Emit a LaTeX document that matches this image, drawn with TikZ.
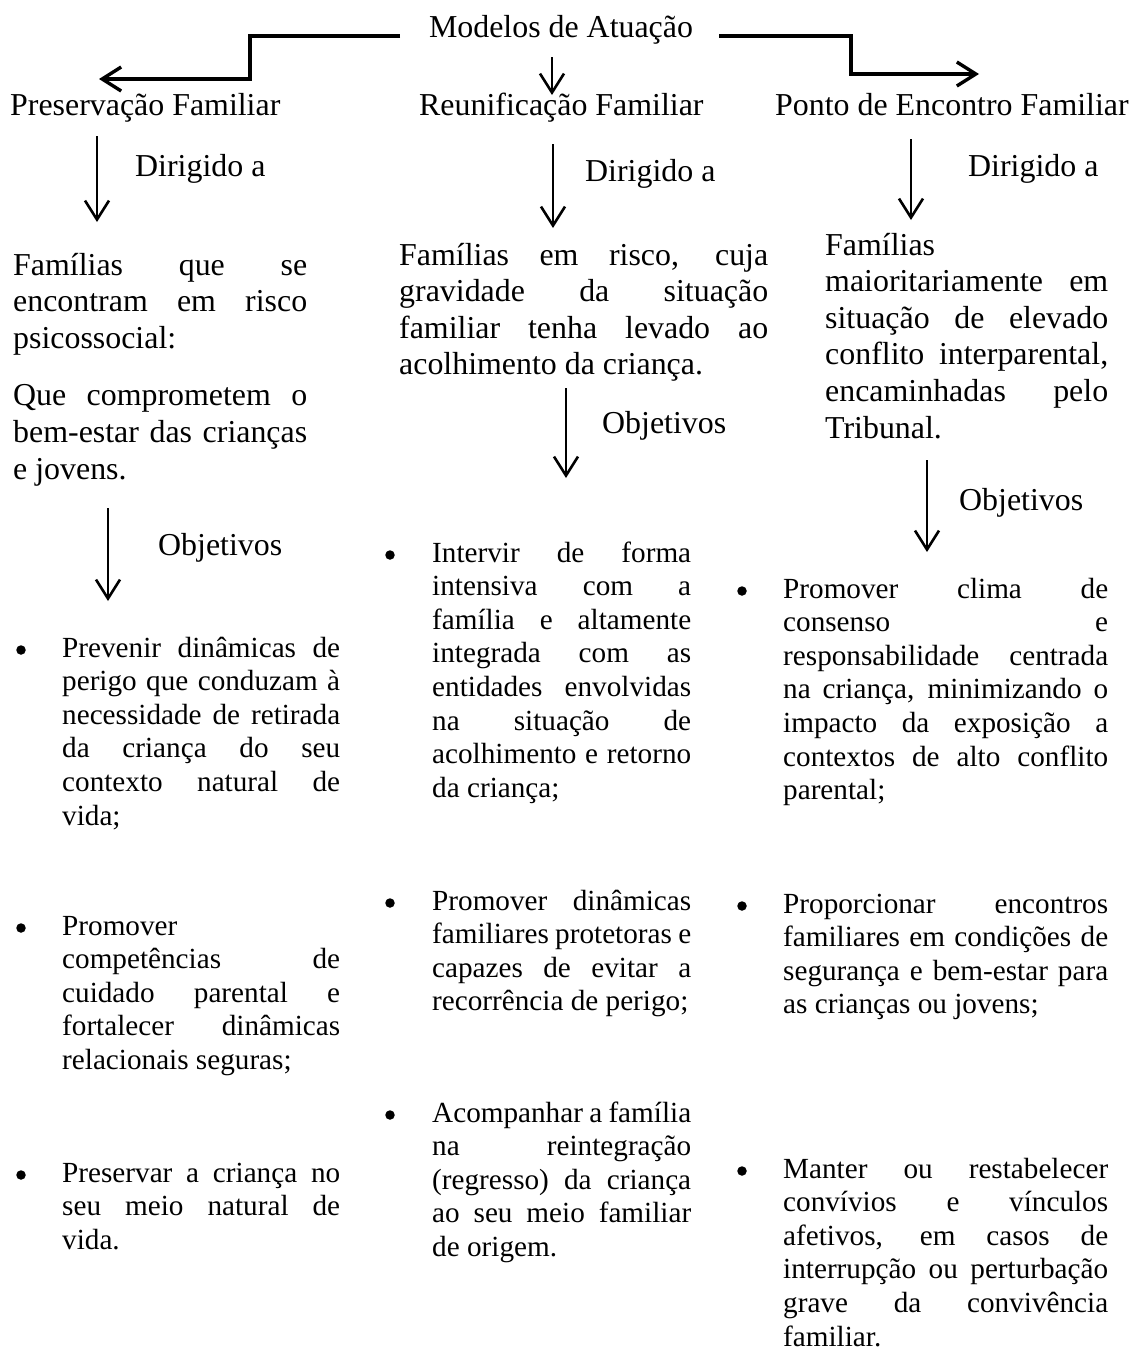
\documentclass[tikz,border=0pt]{standalone}
\usepackage{fontspec}
\setmainfont{Liberation Serif}
\usetikzlibrary{arrows.meta}
\newcommand{\jl}[1]{\makebox[\hsize][s]{\spaceskip=0pt\xspaceskip=0pt #1}\\}

\begin{document}
\begin{tikzpicture}[x=1pt, y=-1pt,
  txt/.style={inner sep=0pt, anchor=base west, font=\fontsize{31.9}{36.6}\selectfont},
  blk/.style={txt, align=justify, text width=#1},
  itm/.style={txt, align=justify, text width=#1, font=\fontsize{29.2}{33.6}\selectfont},
  bul/.style={circle, fill=black, inner sep=0pt, minimum size=9.5pt},
  conn/.style={-{Straight Barb[length=19pt, width=24pt]}, line width=3.4pt},
  arr/.style={-{Straight Barb[length=19pt, width=24pt]}, line width=2.6pt}]
\useasboundingbox (0,0) rectangle (1132,1353);
\node[txt, anchor=base] (mod) at (561,37) {Modelos de Atuação};
\node[txt] (pres) at (10,115) {Preservação Familiar};
\node[txt] (reun) at (419,115) {Reunificação Familiar};
\node[txt] (ponto) at (775,115) {Ponto de Encontro Familiar};
\coordinate (cl0) at (400,36);
\coordinate (cl1) at (99,79);
\coordinate (cm0) at (552,57);
\coordinate (cm1) at (552,95);
\coordinate (cr0) at (719,36);
\coordinate (cr1) at (979,74);
\draw[conn] (cl0) -- (250,36) -- (250,79) -- (cl1);
\draw[arr] (cm0) -- (cm1);
\draw[conn] (cr0) -- (851,36) -- (851,74) -- (cr1);
\coordinate (da1) at (97,136);
\coordinate (db1) at (97,222);
\coordinate (da2) at (553,144);
\coordinate (db2) at (553,228);
\coordinate (da3) at (911,139);
\coordinate (db3) at (911,220);
\draw[arr] (da1) -- (db1);
\draw[arr] (da2) -- (db2);
\draw[arr] (da3) -- (db3);
\node[txt] (dir1) at (135,176) {Dirigido a};
\node[txt] (dir2) at (585,181) {Dirigido a};
\node[txt] (dir3) at (968,176) {Dirigido a};
\node[blk=294pt] (fam1) at (13,275) {\jl{Famílias que se}
  \jl{encontram em risco}
  psicossocial:\\[21pt]
  \jl{Que comprometem o}
  \jl{bem-estar das crianças}
  e jovens.};
\node[blk=369pt] (fam2) at (399,265) {\jl{Famílias em risco, cuja}
  \jl{gravidade da situação}
  \jl{familiar tenha levado ao}
  acolhimento da criança.};
\node[blk=283pt] (fam3) at (825,255) {Famílias\\
  \jl{maioritariamente em}
  \jl{situação de elevado}
  \jl{conflito interparental,}
  \jl{encaminhadas pelo}
  Tribunal.};
\coordinate (oa1) at (108,508);
\coordinate (ob1) at (108,601);
\coordinate (oa2) at (566,388);
\coordinate (ob2) at (566,478);
\coordinate (oa3) at (927,460);
\coordinate (ob3) at (927,552);
\draw[arr] (oa1) -- (ob1);
\draw[arr] (oa2) -- (ob2);
\draw[arr] (oa3) -- (ob3);
\node[txt] (obj1) at (158,555) {Objetivos};
\node[txt] (obj2) at (602,433) {Objetivos};
\node[txt] (obj3) at (959,510) {Objetivos};
\node[itm=278pt] (p1) at (62,657) {\jl{Prevenir dinâmicas de}
  \jl{perigo que conduzam à}
  \jl{necessidade de retirada}
  \jl{da criança do seu}
  \jl{contexto natural de}
  vida;};
\node[itm=278pt] (p2) at (62,935) {Promover\\
  \jl{competências de}
  \jl{cuidado parental e}
  \jl{fortalecer dinâmicas}
  relacionais seguras;};
\node[itm=278pt] (p3) at (62,1182) {\jl{Preservar a criança no}
  \jl{seu meio natural de}
  vida.};
\node[itm=259pt] (r1) at (432,562) {\jl{Intervir de forma}
  \jl{intensiva com a}
  \jl{família e altamente}
  \jl{integrada com as}
  \jl{entidades envolvidas}
  \jl{na situação de}
  \jl{acolhimento e retorno}
  da criança;};
\node[itm=259pt] (r2) at (432,910) {\jl{Promover dinâmicas}
  \jl{familiares protetoras e}
  \jl{capazes de evitar a}
  recorrência de perigo;};
\node[itm=259pt] (r3) at (432,1122) {\jl{Acompanhar a família}
  \jl{na reintegração}
  \jl{(regresso) da criança}
  \jl{ao seu meio familiar}
  de origem.};
\node[itm=325pt] (e1) at (783,598) {\jl{Promover clima de}
  \jl{consenso e}
  \jl{responsabilidade centrada}
  \jl{na criança, minimizando o}
  \jl{impacto da exposição a}
  \jl{contextos de alto conflito}
  parental;};
\node[itm=325pt] (e2) at (783,913) {\jl{Proporcionar encontros}
  \jl{familiares em condições de}
  \jl{segurança e bem-estar para}
  as crianças ou jovens;};
\node[itm=325pt] (e3) at (783,1178) {\jl{Manter ou restabelecer}
  \jl{convívios e vínculos}
  \jl{afetivos, em casos de}
  \jl{interrupção ou perturbação}
  \jl{grave da convivência}
  familiar.};
\node[bul] (bp1) at (21,650) {};
\node[bul] (bp2) at (21,928) {};
\node[bul] (bp3) at (21,1175) {};
\node[bul] (br1) at (390,555) {};
\node[bul] (br2) at (390,903) {};
\node[bul] (br3) at (390,1115) {};
\node[bul] (be1) at (742,591) {};
\node[bul] (be2) at (742,906) {};
\node[bul] (be3) at (742,1171) {};
\end{tikzpicture}
\end{document}
